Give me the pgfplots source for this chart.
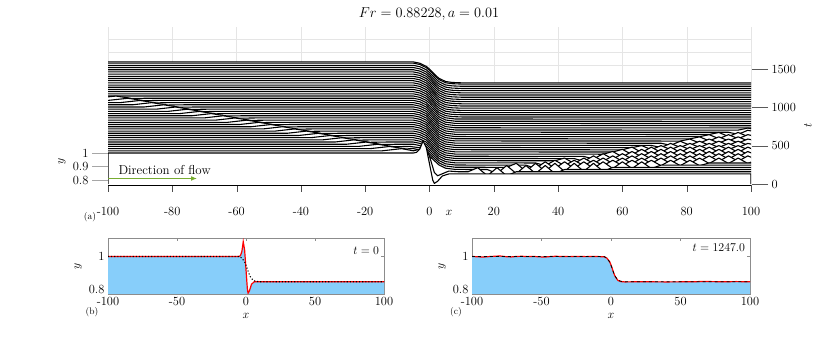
\documentclass[border=0pt]{standalone}
\usepackage{pgfplots}
\usepackage{pgfplotstable}
\pgfplotsset{compat=1.18}
\usetikzlibrary{arrows.meta}
\definecolor{mgreen}{HTML}{77AC30}
\definecolor{skyfill}{HTML}{87CEFA}

% offset of one profile per unit of t in the waterfall
\newcommand{\tk}{0.000541}

\pgfplotsset{
  wffill/.style={fill=white, draw=none},
  wfline/.style={black, line width=1.1pt, line join=round},
  every tick label/.append style={font=\fontsize{12.5}{14}\selectfont},
}

% steady profile (also the dotted / dashed reference)
\pgfplotstableread{
x y
-100 1
-5 1
-3 0.99
-1 0.967
0 0.947
1 0.922
2 0.898
3 0.878
5 0.855
7 0.848
10 0.845
100 0.845
}\stdprof

% initial condition, t = 0
\pgfplotstableread{
x y
-100 1
-5 1
-4 1.005
-3 1.03
-2 1.09
-1 1.04
0 0.92
1 0.80
1.5 0.775
2.5 0.79
4 0.83
6 0.845
100 0.845
}\initprof

% final profile, t = 1247
\pgfplotstableread{
x y
-100 1.0
-96 0.998
-92 0.996
-88 0.999
-84 1.001
-80 1.003
-76 0.999
-72 0.997
-68 1.0
-64 1.001
-60 0.999
-56 1.0
-52 0.998
-48 0.996
-44 0.999
-40 1.001
-36 1.0
-30 0.999
-24 1.0
-18 0.999
-12 1.0
-5 0.998
-3 0.99
-1 0.968
0 0.948
1 0.923
2 0.898
3 0.877
5 0.853
7 0.846
10 0.844
20 0.845
40 0.844
60 0.845
66 0.847
72 0.846
80 0.845
90 0.846
100 0.845
}\finprof

\newcommand{\wf}[2]{%
  \addplot[wffill] table[row sep=\\, header=false, y expr=\thisrowno{1}+#1*\tk] {#2} \closedcycle;
  \addplot[wfline] table[row sep=\\, header=false, y expr=\thisrowno{1}+#1*\tk] {#2};
}
\newcommand{\wfs}[1]{%
  \addplot[wffill] table[x=x, y expr=\thisrow{y}+#1*\tk] {\stdprof} \closedcycle;
  \addplot[wfline] table[x=x, y expr=\thisrow{y}+#1*\tk] {\stdprof};
}

\begin{document}
\begin{tikzpicture}
\path[use as bounding box] (0,0) rectangle (830bp,354bp);

% t axis (right)
\begin{axis}[at={(108bp,170bp)}, anchor=south west, scale only axis,
  width=643bp, height=115bp, xmin=-100, xmax=100, ymin=0, ymax=1500,
  axis x line=none, axis y line*=right,
  ytick={0,500,1000,1500}, yticklabels={0,500,1000,1500},
  tick align=outside, major tick length=17bp,
  axis line style={black!65}, tick style={black!65}]
\end{axis}

% waterfall
\begin{axis}[at={(108bp,169bp)}, anchor=south west, scale only axis,
  width=643bp, height=158bp, xmin=-100, xmax=100, ymin=0.763, ymax=1.9333,
  axis line style={draw=none}, tick style={draw=none},
  xtick={-100,-80,...,100}, xticklabels={},
  ytick={1.652,1.748,1.844}, yticklabels={},
  tick label style={text opacity=0},
  xmajorgrids, ymajorgrids, grid style={black!10, line width=0.4pt}]

\pgfplotsinvokeforeach{1247,1230,1200,1170,1140,1110,1080,1050,1020,990,960,930,900,870,840,810,780}{\wfs{#1}}

\wf{750}{-100 1.01\\ -97.5 1.016\\ -92.5 0.998\\ -87.5 1\\ -5 1\\ -3 0.99\\ -1 0.967\\ 1 0.922\\ 3 0.878\\ 5 0.855\\ 8 0.846\\ 100 0.845\\}
\wf{720}{-100 1\\ -93.8 1.016\\ -88.8 0.998\\ -83.8 1\\ -5 1\\ -3 0.99\\ -1 0.967\\ 1 0.922\\ 3 0.878\\ 5 0.855\\ 8 0.846\\ 100 0.845\\}
\wf{690}{-100 1\\ -96.1 1\\ -90.1 1.016\\ -85.1 0.998\\ -80.1 1\\ -5 1\\ -3 0.99\\ -1 0.967\\ 1 0.922\\ 3 0.878\\ 5 0.855\\ 8 0.846\\ 100 0.845\\}
\wf{660}{-100 1\\ -92.4 1\\ -86.4 1.016\\ -81.4 0.998\\ -76.4 1\\ -5 1\\ -3 0.99\\ -1 0.967\\ 1 0.922\\ 3 0.878\\ 5 0.855\\ 8 0.846\\ 100 0.845\\}
\wf{630}{-100 1\\ -88.7 1\\ -82.7 1.016\\ -77.7 0.998\\ -72.7 1\\ -5 1\\ -3 0.99\\ -1 0.967\\ 1 0.922\\ 3 0.878\\ 5 0.855\\ 8 0.846\\ 100 0.845\\}
\wf{600}{-100 1\\ -85 1\\ -79 1.016\\ -74 0.998\\ -69 1\\ -5 1\\ -3 0.99\\ -1 0.967\\ 1 0.922\\ 3 0.878\\ 5 0.855\\ 8 0.846\\ 96 0.845\\ 99 0.86\\ 100 0.855\\}
\wf{570}{-100 1\\ -81.3 1\\ -75.3 1.016\\ -70.3 0.998\\ -65.3 1\\ -5 1\\ -3 0.99\\ -1 0.967\\ 1 0.922\\ 3 0.878\\ 5 0.855\\ 8 0.846\\ 93 0.845\\ 96 0.83\\ 99 0.86\\ 100 0.855\\}
\wf{540}{-100 1\\ -77.6 1\\ -71.6 1.016\\ -66.6 0.998\\ -61.6 1\\ -5 1\\ -3 0.99\\ -1 0.967\\ 1 0.922\\ 3 0.878\\ 5 0.855\\ 8 0.846\\ 87 0.845\\ 90 0.86\\ 93 0.83\\ 96 0.86\\ 99 0.83\\ 100 0.835\\}
\wf{510}{-100 1\\ -73.9 1\\ -67.9 1.016\\ -62.9 0.998\\ -57.9 1\\ -5 1\\ -3 0.99\\ -1 0.967\\ 1 0.922\\ 3 0.878\\ 5 0.855\\ 8 0.846\\ 84 0.845\\ 87 0.86\\ 90 0.83\\ 93 0.86\\ 96 0.83\\ 99 0.86\\ 100 0.855\\}
\wf{480}{-100 1\\ -70.2 1\\ -64.2 1.016\\ -59.2 0.998\\ -54.2 1\\ -5 1\\ -3 0.99\\ -1 0.967\\ 1 0.922\\ 3 0.878\\ 5 0.855\\ 8 0.846\\ 81 0.845\\ 84 0.86\\ 87 0.83\\ 90 0.86\\ 93 0.83\\ 96 0.86\\ 99 0.83\\ 100 0.835\\}
\wf{450}{-100 1\\ -66.5 1\\ -60.5 1.016\\ -55.5 0.998\\ -50.5 1\\ -5 1\\ -3 0.99\\ -1 0.967\\ 1 0.922\\ 3 0.878\\ 5 0.855\\ 8 0.846\\ 78 0.845\\ 81 0.86\\ 84 0.83\\ 87 0.86\\ 90 0.83\\ 93 0.86\\ 96 0.83\\ 99 0.86\\ 100 0.855\\}
\wf{420}{-100 1\\ -62.8 1\\ -56.8 1.016\\ -51.8 0.998\\ -46.8 1\\ -5 1\\ -3 0.99\\ -1 0.967\\ 1 0.922\\ 3 0.878\\ 5 0.855\\ 8 0.846\\ 72 0.845\\ 75 0.83\\ 78 0.86\\ 81 0.83\\ 84 0.86\\ 87 0.83\\ 90 0.86\\ 93 0.83\\ 96 0.86\\ 99 0.83\\ 100 0.835\\}
\wf{390}{-100 1\\ -59.1 1\\ -53.1 1.016\\ -48.1 0.998\\ -43.1 1\\ -5 1\\ -3 0.99\\ -1 0.967\\ 1 0.922\\ 3 0.878\\ 5 0.855\\ 8 0.846\\ 69 0.845\\ 72 0.83\\ 75 0.86\\ 78 0.83\\ 81 0.86\\ 84 0.83\\ 87 0.86\\ 90 0.83\\ 93 0.86\\ 96 0.83\\ 99 0.86\\ 100 0.855\\}
\wf{360}{-100 1\\ -55.4 1\\ -49.4 1.016\\ -44.4 0.998\\ -39.4 1\\ -5 1\\ -3 0.99\\ -1 0.967\\ 1 0.922\\ 3 0.878\\ 5 0.855\\ 8 0.846\\ 63 0.845\\ 66 0.86\\ 69 0.83\\ 72 0.86\\ 75 0.83\\ 78 0.86\\ 81 0.83\\ 84 0.86\\ 87 0.83\\ 90 0.86\\ 93 0.83\\ 96 0.86\\ 99 0.83\\ 100 0.835\\}
\wf{330}{-100 1\\ -51.7 1\\ -45.7 1.016\\ -40.7 0.998\\ -35.7 1\\ -5 1\\ -3 0.99\\ -1 0.967\\ 1 0.922\\ 3 0.878\\ 5 0.855\\ 8 0.846\\ 60 0.845\\ 63 0.865\\ 66 0.825\\ 69 0.865\\ 72 0.825\\ 75 0.865\\ 78 0.825\\ 81 0.865\\ 84 0.825\\ 87 0.865\\ 90 0.825\\ 93 0.865\\ 96 0.825\\ 99 0.865\\ 100 0.855\\}
\wf{300}{-100 1\\ -48 1\\ -42 1.016\\ -37 0.998\\ -32 1\\ -5 1\\ -3 0.99\\ -1 0.967\\ 1 0.922\\ 3 0.878\\ 5 0.855\\ 8 0.846\\ 57 0.845\\ 60 0.865\\ 63 0.825\\ 66 0.865\\ 69 0.825\\ 72 0.865\\ 75 0.825\\ 78 0.865\\ 81 0.825\\ 84 0.865\\ 87 0.825\\ 90 0.865\\ 93 0.825\\ 96 0.865\\ 99 0.825\\ 100 0.835\\}
\wf{270}{-100 1\\ -44.3 1\\ -38.3 1.016\\ -33.3 0.998\\ -28.3 1\\ -5 1\\ -3 0.99\\ -1 0.967\\ 1 0.922\\ 3 0.878\\ 5 0.855\\ 8 0.846\\ 54 0.845\\ 57 0.865\\ 60 0.825\\ 63 0.865\\ 66 0.825\\ 69 0.865\\ 72 0.825\\ 75 0.865\\ 78 0.825\\ 81 0.865\\ 84 0.825\\ 87 0.865\\ 90 0.825\\ 93 0.865\\ 96 0.825\\ 99 0.865\\ 100 0.855\\}
\wf{240}{-100 1\\ -40.6 1\\ -34.6 1.016\\ -29.6 0.998\\ -24.6 1\\ -5 1\\ -3 0.99\\ -1 0.967\\ 1 0.922\\ 3 0.878\\ 5 0.855\\ 8 0.846\\ 48 0.845\\ 51 0.825\\ 54 0.865\\ 57 0.825\\ 60 0.865\\ 63 0.825\\ 66 0.865\\ 69 0.825\\ 72 0.865\\ 75 0.825\\ 78 0.865\\ 81 0.825\\ 84 0.865\\ 87 0.825\\ 90 0.865\\ 93 0.825\\ 96 0.865\\ 99 0.825\\ 100 0.835\\}
\wf{210}{-100 1\\ -36.9 1\\ -30.9 1.016\\ -25.9 0.998\\ -20.9 1\\ -5 1\\ -3 0.99\\ -1 0.967\\ 1 0.922\\ 3 0.878\\ 5 0.855\\ 8 0.846\\ 45 0.845\\ 48 0.825\\ 51 0.865\\ 54 0.825\\ 57 0.865\\ 60 0.825\\ 63 0.865\\ 66 0.825\\ 69 0.865\\ 72 0.825\\ 75 0.865\\ 78 0.825\\ 81 0.865\\ 84 0.825\\ 87 0.865\\ 90 0.825\\ 93 0.865\\ 96 0.825\\ 99 0.865\\ 100 0.855\\}
\wf{180}{-100 1\\ -33.2 1\\ -27.2 1.016\\ -22.2 0.998\\ -17.2 1\\ -5 1\\ -3 0.99\\ -1 0.967\\ 1 0.922\\ 3 0.878\\ 5 0.855\\ 8 0.846\\ 39 0.845\\ 42 0.865\\ 45 0.825\\ 48 0.865\\ 51 0.825\\ 54 0.865\\ 57 0.825\\ 60 0.865\\ 63 0.825\\ 66 0.865\\ 69 0.825\\ 72 0.865\\ 75 0.825\\ 78 0.865\\ 81 0.825\\ 84 0.865\\ 87 0.825\\ 90 0.865\\ 93 0.825\\ 96 0.865\\ 99 0.825\\ 100 0.835\\}
\wf{150}{-100 1\\ -29.5 1\\ -23.5 1.016\\ -18.5 0.998\\ -13.5 1\\ -5 1\\ -3 0.99\\ -1 0.967\\ 1 0.922\\ 3 0.878\\ 5 0.855\\ 8 0.846\\ 33 0.845\\ 36 0.825\\ 39 0.865\\ 42 0.825\\ 45 0.865\\ 48 0.825\\ 51 0.865\\ 54 0.825\\ 57 0.865\\ 60 0.825\\ 63 0.865\\ 66 0.825\\ 69 0.865\\ 72 0.825\\ 75 0.865\\ 78 0.825\\ 81 0.865\\ 84 0.825\\ 87 0.845\\ 100 0.845\\}
\wf{120}{-100 1\\ -25.8 1\\ -19.8 1.016\\ -14.8 0.998\\ -9.8 1\\ -5 1\\ -3 0.99\\ -1 0.967\\ 1 0.922\\ 3 0.878\\ 5 0.855\\ 8 0.846\\ 30 0.845\\ 33 0.82\\ 36 0.87\\ 39 0.82\\ 42 0.87\\ 45 0.82\\ 48 0.87\\ 51 0.82\\ 54 0.87\\ 57 0.82\\ 60 0.87\\ 63 0.82\\ 66 0.87\\ 69 0.82\\ 72 0.845\\ 100 0.845\\}
\wf{90}{-100 1\\ -22.1 1\\ -16.1 1.016\\ -11.1 0.998\\ -6.1 1\\ -3 0.99\\ -1 0.967\\ 1 0.922\\ 3 0.878\\ 5 0.855\\ 8 0.846\\ 24 0.845\\ 27 0.875\\ 30 0.815\\ 33 0.875\\ 36 0.815\\ 39 0.875\\ 42 0.815\\ 45 0.875\\ 48 0.815\\ 51 0.875\\ 54 0.815\\ 57 0.845\\ 100 0.845\\}
\wf{60}{-100 1\\ -18.4 1\\ -12.4 1.016\\ -7.4 0.998\\ -5 1\\ -3 0.99\\ -1 0.967\\ 1 0.922\\ 3 0.878\\ 5 0.855\\ 8 0.846\\ 18 0.845\\ 21 0.815\\ 24 0.875\\ 27 0.815\\ 30 0.875\\ 33 0.815\\ 36 0.875\\ 39 0.815\\ 42 0.845\\ 100 0.845\\}
\wf{30}{-100 1\\ -14.7 1\\ -8.7 1.016\\ -5 1.0\\ -3 1.012\\ -1.5 1.035\\ 0 0.96\\ 1.5 0.84\\ 2.5 0.815\\ 4 0.83\\ 6 0.85\\ 9 0.845\\ 12 0.845\\ 15 0.875\\ 18 0.815\\ 21 0.875\\ 24 0.815\\ 27 0.845\\ 100 0.845\\}
\wf{0}{-100 0.77\\ -100 1\\ -5 1\\ -4 1.005\\ -3 1.03\\ -2 1.09\\ -1 1.04\\ 0 0.92\\ 1 0.80\\ 1.5 0.775\\ 2.5 0.79\\ 4 0.83\\ 6 0.845\\ 100 0.845\\ 100 0.77\\}
\end{axis}

% front x axis
\begin{axis}[at={(108bp,169bp)}, anchor=south west, scale only axis,
  width=643bp, height=158bp, xmin=-100, xmax=100, ymin=0.763, ymax=1.9333,
  axis x line*=bottom, axis y line=none,
  xtick={-100,-80,...,100}, xticklabels={-100,-80,-60,-40,-20,0,20,40,60,80,100},
  tick align=outside, major tick length=7bp, xticklabel style={yshift=-12bp},
  axis line style={black, line width=0.7pt}, tick style={black!70}]
\end{axis}

% left y ticks
\begin{axis}[at={(108bp,169bp)}, anchor=south west, scale only axis,
  width=643bp, height=158bp, xmin=-100, xmax=100, ymin=0.763, ymax=1.9333,
  axis x line=none, axis y line*=left, axis line style={draw=none},
  ytick={0.8,0.9,1}, yticklabels={0.8,0.9,1},
  tick align=outside, major tick length=16bp, tick style={black!35}]
\end{axis}

% (b) t = 0
\begin{axis}[at={(108bp,60bp)}, anchor=south west, scale only axis,
  width=276bp, height=55.5bp, xmin=-100, xmax=100, ymin=0.77, ymax=1.11,
  xtick={-100,-50,0,50,100}, xticklabels={-100,-50,0,50,100},
  ytick={0.8,1}, yticklabels={0.8,1},
  tick align=inside, major tick length=3bp,
  axis line style={black!45}, tick style={black!45},
  xlabel={$x$}, ylabel={$y$}, label style={font=\fontsize{13}{15}\selectfont}]
\addplot[fill=skyfill, draw=none] table[x=x, y=y] {\initprof} \closedcycle;
\addplot[red, line width=1.2pt] table[x=x, y=y] {\initprof};
\addplot[black, dotted, line width=1.1pt] table[x=x, y=y] {\stdprof};
\node[anchor=east, font=\fontsize{13}{15}\selectfont] at (rel axis cs:0.995,0.79) {$t = 0$};
\end{axis}

% (c) t = 1247
\begin{axis}[at={(472bp,60bp)}, anchor=south west, scale only axis,
  width=278bp, height=55.5bp, xmin=-100, xmax=100, ymin=0.77, ymax=1.11,
  xtick={-100,-50,0,50,100}, xticklabels={-100,-50,0,50,100},
  ytick={0.8,1}, yticklabels={0.8,1},
  tick align=inside, major tick length=3bp,
  axis line style={black!45}, tick style={black!45},
  xlabel={$x$}, ylabel={$y$}, label style={font=\fontsize{13}{15}\selectfont}]
\addplot[fill=skyfill, draw=none] table[x=x, y=y] {\finprof} \closedcycle;
\addplot[red, line width=1.2pt] table[x=x, y=y] {\finprof};
\addplot[black, dashed, line width=0.8pt] table[x=x, y=y] {\stdprof};
\node[anchor=east, font=\fontsize{13}{15}\selectfont] at (rel axis cs:0.995,0.84) {$t = 1247.0$};
\end{axis}

% annotations
\node[font=\fontsize{14.5}{17}\selectfont] at (429bp,340bp) {$Fr = 0.88228, a = 0.01$};
\node[rotate=90, font=\fontsize{13}{15}\selectfont] at (62bp,193bp) {$y$};
\node[rotate=90, font=\fontsize{13}{15}\selectfont] at (808bp,229bp) {$t$};
\node[font=\fontsize{13}{15}\selectfont] at (449bp,141bp) {$x$};
\node[font=\fontsize{9.5}{11}\selectfont] at (90bp,137bp) {(a)};
\node[font=\fontsize{9.5}{11}\selectfont] at (92bp,42bp) {(b)};
\node[font=\fontsize{9.5}{11}\selectfont] at (456bp,42bp) {(c)};
\node[anchor=west, font=\fontsize{13}{15}\selectfont] at (115bp,184bp) {Direction of flow};
\draw[mgreen, line width=1.6pt, -{Latex[length=6pt, width=5pt]}] (108bp,175.5bp) -- (197bp,175.5bp);
\end{tikzpicture}
\end{document}
